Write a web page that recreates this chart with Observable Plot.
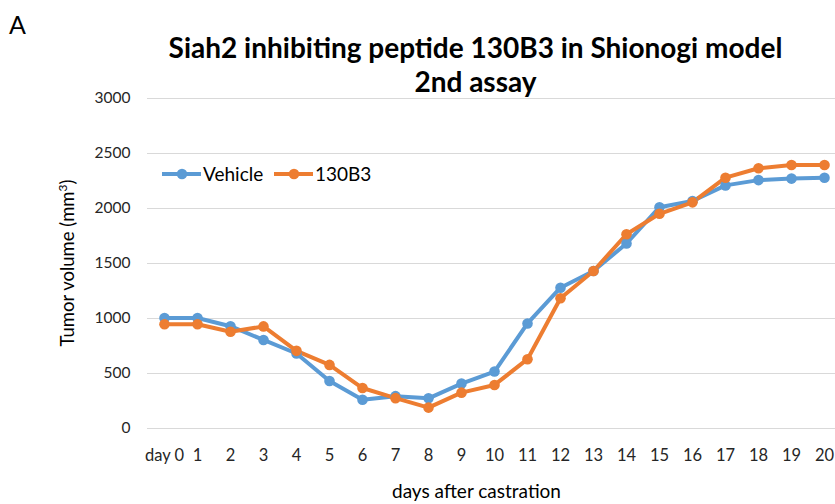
<!DOCTYPE html>
<html>
<head>
<meta charset="utf-8">
<script src="https://cdn.jsdelivr.net/npm/d3@7"></script>
<script src="https://cdn.jsdelivr.net/npm/@observablehq/plot@0.6"></script>
<style>
  html, body { margin: 0; padding: 0; background: #fff; }
  #wrap { position: relative; width: 835px; height: 504px; overflow: hidden; font-family: Lato, "Open Sans", sans-serif; }
  #wrap svg { position: absolute; left: 0; top: 0; }
</style>
</head>
<body>
<div id="wrap"></div>
<script>
const days = ["day 0","1","2","3","4","5","6","7","8","9","10","11","12","13","14","15","16","17","18","19","20"];
const vehicle = [1005,1005,930,805,682,432,262,294,274,408,518,955,1280,1432,1682,2012,2068,2210,2258,2272,2280];
const b3 = [948,948,880,928,706,578,368,276,190,326,396,630,1184,1432,1766,1952,2056,2280,2366,2396,2396];
const seriesNames = ["Vehicle","130B3"];
const colors = ["#5B9BD5","#ED7D31"];
const yTicks = [0,500,1000,1500,2000,2500,3000];
const titleLines = ["Siah2 inhibiting peptide 130B3 in Shionogi model", "2nd assay"];
const xLabel = "days after castration";
const yLabel = "Tumor volume (mm";

const rows = [];
days.forEach((d,i) => {
  rows.push({day: d, value: vehicle[i], series: seriesNames[0]});
  rows.push({day: d, value: b3[i], series: seriesNames[1]});
});

const plot = Plot.plot({
  width: 835,
  height: 504,
  marginTop: 98,
  marginBottom: 76,
  marginLeft: 147,
  marginRight: 0,
  style: {fontFamily: "Lato, 'Open Sans', sans-serif", background: "transparent", overflow: "hidden"},
  x: {type: "point", domain: days, range: [146.5, 841.5], padding: 0.5},
  y: {domain: [0, 3000]},
  color: {domain: seriesNames, range: colors},
  marks: [
    Plot.gridY(yTicks, {stroke: "#d9d9d9", strokeOpacity: 1, strokeWidth: 1.2}),
    Plot.axisY(yTicks, {tickSize: 0, tickPadding: 17, fontSize: 15.5, fill: "#262626", tickFormat: d3.format("d"), label: null}),
    Plot.axisX(days, {tickSize: 0, tickPadding: 21, fontSize: 16.5, fill: "#262626", label: null}),
    Plot.line(rows, {x: "day", y: "value", z: "series", stroke: "series", strokeWidth: 4}),
    Plot.dot(rows, {x: "day", y: "value", fill: "series", r: 5.3})
  ]
});
const wrap = document.getElementById("wrap");
wrap.appendChild(plot);

// annotation overlay (titles, axis labels, legend)
const ov = d3.select(wrap).append("svg")
  .attr("width", 835).attr("height", 504)
  .style("font-family", "Lato, 'Open Sans', sans-serif")
  .style("pointer-events", "none");
ov.append("text").attr("x", 9).attr("y", 34).attr("font-size", 25).attr("fill", "#000").text("A");
titleLines.forEach((t, i) => {
  ov.append("text").attr("x", 475.5).attr("y", 58 + i * 34).attr("text-anchor", "middle")
    .attr("font-size", 28).attr("font-weight", "bold").attr("fill", "#000").text(t);
});
const yl = ov.append("text").attr("transform", "translate(74,263) rotate(-90)")
  .attr("text-anchor", "middle").attr("font-size", 18.5).attr("fill", "#000");
yl.append("tspan").text(yLabel);
yl.append("tspan").attr("dy", -7).attr("font-size", 12).text("3");
yl.append("tspan").attr("dy", 7).text(")");
ov.append("text").attr("x", 476.5).attr("y", 498).attr("text-anchor", "middle")
  .attr("font-size", 19).attr("fill", "#000").text(xLabel);

const legX = [162, 274];
seriesNames.forEach((s, i) => {
  const g = ov.append("g").attr("transform", `translate(${legX[i]},174)`);
  g.append("line").attr("x1", 0).attr("x2", 39).attr("y1", 0).attr("y2", 0)
    .attr("stroke", colors[i]).attr("stroke-width", 4);
  g.append("circle").attr("cx", 20).attr("cy", 0).attr("r", 5.3).attr("fill", colors[i]);
  g.append("text").attr("x", 41).attr("y", 6.5).attr("font-size", 19).attr("fill", "#000").text(s);
});
</script>
</body>
</html>
